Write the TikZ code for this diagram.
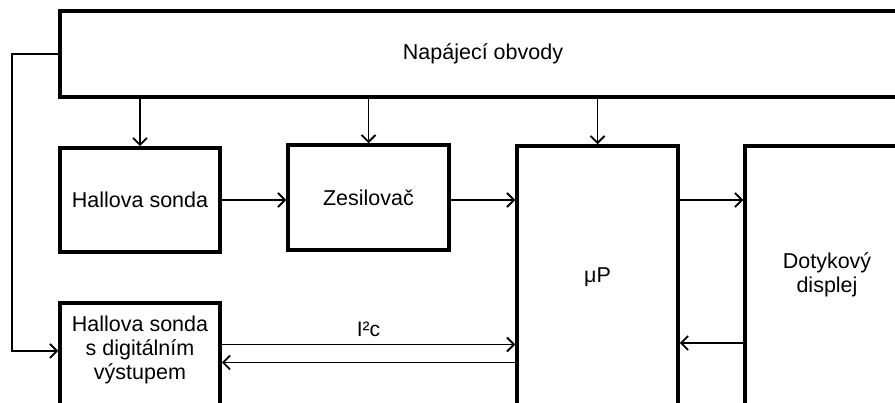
\documentclass[tikz,border=0pt]{standalone}
\usepackage{fontspec}
\setmainfont{Liberation Sans}
\usetikzlibrary{arrows.meta}
\begin{document}
\begin{tikzpicture}[x=1pt,y=-1pt,
  blk/.style={draw, line width=3.5pt, inner sep=0pt},
  lbl/.style={font=\fontsize{21.5}{24}\selectfont, align=center, inner sep=0pt},
  conn/.style={line width=1.8pt, -{Straight Barb[length=7pt,width=14pt,line width=1.8pt]}},
  wire/.style={line width=1.8pt}]
\useasboundingbox (0,0) rectangle (895,403);
\clip (0,0) rectangle (895,403);
% blocks
\node[blk, minimum width=846pt, minimum height=86pt] (top) at (483,54) {};
\node[lbl] (toplbl) at (483,54) {Napájecí obvody};
\node[blk, minimum width=160pt, minimum height=104pt] (hs) at (140,200) {};
\node[lbl] (hslbl) at (140,200) {Hallova sonda};
\node[blk, minimum width=161pt, minimum height=105pt] (zes) at (368.5,197.5) {};
\node[lbl] (zeslbl) at (368.5,197.5) {Zesilovač};
\node[blk, minimum width=161pt, minimum height=264pt] (mp) at (597.5,278) {};
\node[lbl] (mplbl) at (597.5,277) {μP};
\node[blk, minimum width=164pt, minimum height=264pt] (dp) at (827,278) {};
\node[lbl] (dplbl) at (827,275) {Dotykový\\displej};
\node[blk, minimum width=160pt, minimum height=112pt] (hd) at (140,359) {};
\node[lbl] (hdlbl) at (140,350) {Hallova sonda\\s digitálním\\výstupem};
% level coordinates
\coordinate (ya) at (0,200);
\coordinate (yb) at (0,343);
\coordinate (yc) at (0,344.5);
\coordinate (yd) at (0,362.5);
\coordinate (ye) at (0,351);
\coordinate (fx) at (12,0);
% power arrows
\draw[conn] (top.south -| hs.north) -- (hs.north);
\draw[conn] (top.south -| zes.north) -- (zes.north);
\draw[conn] (top.south -| mp.north) -- (mp.north);
% signal chain
\draw[conn] (hs.east |- ya) -- (zes.west |- ya);
\draw[conn] (zes.east |- ya) -- (mp.west |- ya);
\draw[conn] (mp.east |- ya) -- (dp.west |- ya);
\draw[conn] (dp.west |- yb) -- (mp.east |- yb);
% feedback supply
\draw[conn] (top.west) -- (fx |- top.west) -- (fx |- ye) -- (hd.west |- ye);
% I2C bus
\draw[conn] (hd.east |- yc) -- (mp.west |- yc)
  node[midway, above=7pt, inner sep=0pt, font=\fontsize{21}{23}\selectfont] (i2c) {I²c};
\draw[conn] (mp.west |- yd) -- (hd.east |- yd);
\end{tikzpicture}
\end{document}
